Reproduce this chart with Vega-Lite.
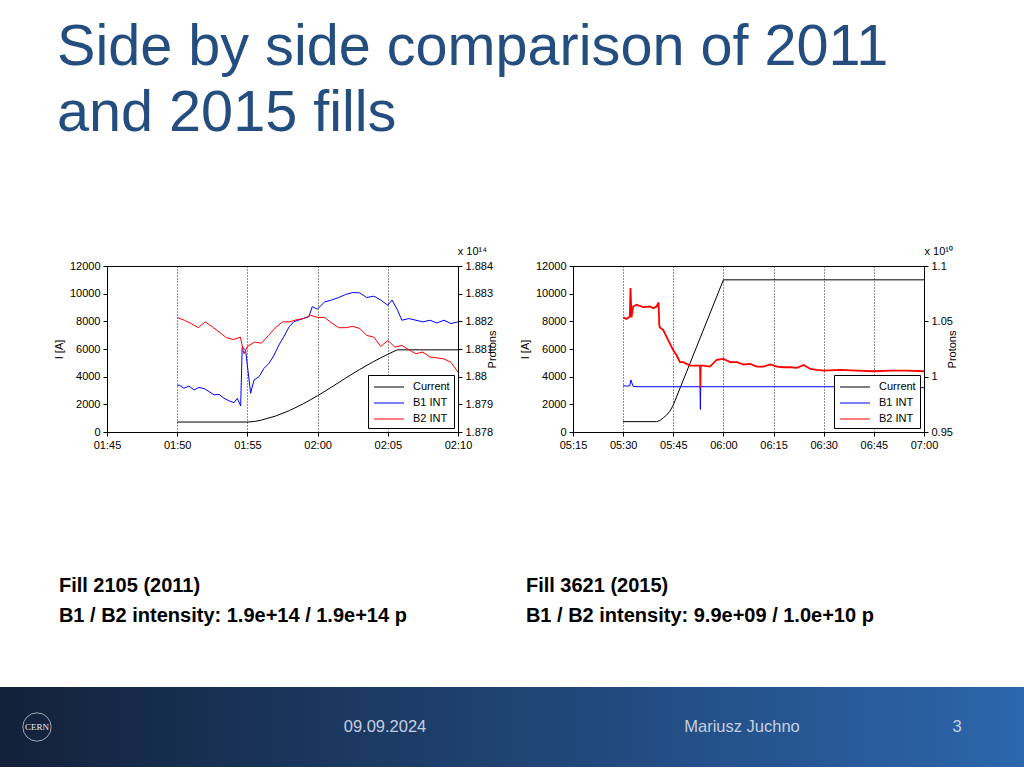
{
  "$schema": "https://vega.github.io/schema/vega-lite/v6.json",
  "background": "#ffffff",
  "padding": {"left": 0, "top": 18, "right": 0, "bottom": 0},
  "title": {"text": ["Side by side comparison of 2011", "and 2015 fills"], "anchor": "start", "dx": 57, "fontSize": 57.6, "lineHeight": 66, "fontWeight": "normal", "color": "#254E80", "font": "Liberation Sans", "offset": 103},
  "datasets": {
    "l_cur": [
      {"minute": 110, "I": 720}, {"minute": 115, "I": 720}, {"minute": 115.5, "I": 760}, {"minute": 116, "I": 860}, {"minute": 117, "I": 1150},
      {"minute": 118, "I": 1550}, {"minute": 119, "I": 2050}, {"minute": 120, "I": 2620}, {"minute": 121, "I": 3250}, {"minute": 122, "I": 3900},
      {"minute": 123, "I": 4520}, {"minute": 124, "I": 5100}, {"minute": 125, "I": 5620}, {"minute": 125.67, "I": 5940}, {"minute": 130, "I": 5940}
    ],
    "l_beam": [
      {"minute": 110, "s": "B1 INT", "p": 1.87967}, {"minute": 110.13, "s": "B1 INT", "p": 1.8797}, {"minute": 110.48, "s": "B1 INT", "p": 1.87958},
      {"minute": 110.83, "s": "B1 INT", "p": 1.87966}, {"minute": 111.2, "s": "B1 INT", "p": 1.87952}, {"minute": 111.55, "s": "B1 INT", "p": 1.87961},
      {"minute": 111.92, "s": "B1 INT", "p": 1.87957}, {"minute": 112.27, "s": "B1 INT", "p": 1.87946}, {"minute": 112.62, "s": "B1 INT", "p": 1.87934},
      {"minute": 112.98, "s": "B1 INT", "p": 1.87936}, {"minute": 113.33, "s": "B1 INT", "p": 1.87922}, {"minute": 113.68, "s": "B1 INT", "p": 1.87913},
      {"minute": 114.05, "s": "B1 INT", "p": 1.87906}, {"minute": 114.28, "s": "B1 INT", "p": 1.87922}, {"minute": 114.52, "s": "B1 INT", "p": 1.87894},
      {"minute": 114.63, "s": "B1 INT", "p": 1.88108}, {"minute": 114.87, "s": "B1 INT", "p": 1.88096}, {"minute": 115.23, "s": "B1 INT", "p": 1.8794},
      {"minute": 115.47, "s": "B1 INT", "p": 1.87988}, {"minute": 115.83, "s": "B1 INT", "p": 1.88}, {"minute": 116.18, "s": "B1 INT", "p": 1.8803},
      {"minute": 116.53, "s": "B1 INT", "p": 1.88048}, {"minute": 116.9, "s": "B1 INT", "p": 1.88078}, {"minute": 117.25, "s": "B1 INT", "p": 1.88115},
      {"minute": 117.6, "s": "B1 INT", "p": 1.88145}, {"minute": 117.97, "s": "B1 INT", "p": 1.8818}, {"minute": 118.32, "s": "B1 INT", "p": 1.88199},
      {"minute": 118.67, "s": "B1 INT", "p": 1.88205}, {"minute": 119.03, "s": "B1 INT", "p": 1.88211}, {"minute": 119.38, "s": "B1 INT", "p": 1.88217},
      {"minute": 119.62, "s": "B1 INT", "p": 1.88253}, {"minute": 119.98, "s": "B1 INT", "p": 1.88244}, {"minute": 120.5, "s": "B1 INT", "p": 1.8827},
      {"minute": 121, "s": "B1 INT", "p": 1.88277}, {"minute": 121.5, "s": "B1 INT", "p": 1.88286}, {"minute": 122, "s": "B1 INT", "p": 1.88297},
      {"minute": 122.5, "s": "B1 INT", "p": 1.88304}, {"minute": 123, "s": "B1 INT", "p": 1.88303}, {"minute": 123.5, "s": "B1 INT", "p": 1.88286},
      {"minute": 124, "s": "B1 INT", "p": 1.88291}, {"minute": 124.5, "s": "B1 INT", "p": 1.88277}, {"minute": 125, "s": "B1 INT", "p": 1.88258},
      {"minute": 125.3, "s": "B1 INT", "p": 1.88277}, {"minute": 125.7, "s": "B1 INT", "p": 1.8824}, {"minute": 126, "s": "B1 INT", "p": 1.88204},
      {"minute": 126.5, "s": "B1 INT", "p": 1.8821}, {"minute": 127, "s": "B1 INT", "p": 1.88204}, {"minute": 127.5, "s": "B1 INT", "p": 1.88198},
      {"minute": 128, "s": "B1 INT", "p": 1.88204}, {"minute": 128.5, "s": "B1 INT", "p": 1.88194}, {"minute": 129, "s": "B1 INT", "p": 1.88204},
      {"minute": 129.5, "s": "B1 INT", "p": 1.88192}, {"minute": 130, "s": "B1 INT", "p": 1.88198},
      {"minute": 110, "s": "B2 INT", "p": 1.88214}, {"minute": 110.5, "s": "B2 INT", "p": 1.88204}, {"minute": 111, "s": "B2 INT", "p": 1.88192},
      {"minute": 111.5, "s": "B2 INT", "p": 1.88177}, {"minute": 112, "s": "B2 INT", "p": 1.88198}, {"minute": 112.5, "s": "B2 INT", "p": 1.8818},
      {"minute": 113, "s": "B2 INT", "p": 1.88161}, {"minute": 113.5, "s": "B2 INT", "p": 1.88141}, {"minute": 114, "s": "B2 INT", "p": 1.88134},
      {"minute": 114.5, "s": "B2 INT", "p": 1.88143}, {"minute": 114.75, "s": "B2 INT", "p": 1.88083}, {"minute": 115, "s": "B2 INT", "p": 1.88109},
      {"minute": 115.5, "s": "B2 INT", "p": 1.88125}, {"minute": 116, "s": "B2 INT", "p": 1.88121}, {"minute": 116.5, "s": "B2 INT", "p": 1.88149},
      {"minute": 117, "s": "B2 INT", "p": 1.88177}, {"minute": 117.5, "s": "B2 INT", "p": 1.88198}, {"minute": 118, "s": "B2 INT", "p": 1.88198},
      {"minute": 118.5, "s": "B2 INT", "p": 1.88206}, {"minute": 119, "s": "B2 INT", "p": 1.8821}, {"minute": 119.5, "s": "B2 INT", "p": 1.88222},
      {"minute": 120, "s": "B2 INT", "p": 1.88214}, {"minute": 120.5, "s": "B2 INT", "p": 1.88214}, {"minute": 121, "s": "B2 INT", "p": 1.88194},
      {"minute": 121.5, "s": "B2 INT", "p": 1.88177}, {"minute": 122, "s": "B2 INT", "p": 1.88177}, {"minute": 122.5, "s": "B2 INT", "p": 1.88182},
      {"minute": 123, "s": "B2 INT", "p": 1.88174}, {"minute": 123.5, "s": "B2 INT", "p": 1.88149}, {"minute": 124, "s": "B2 INT", "p": 1.88143},
      {"minute": 124.5, "s": "B2 INT", "p": 1.88109}, {"minute": 125, "s": "B2 INT", "p": 1.88131}, {"minute": 125.5, "s": "B2 INT", "p": 1.88107},
      {"minute": 126, "s": "B2 INT", "p": 1.88113}, {"minute": 126.5, "s": "B2 INT", "p": 1.88097}, {"minute": 127, "s": "B2 INT", "p": 1.88083},
      {"minute": 127.5, "s": "B2 INT", "p": 1.88089}, {"minute": 128, "s": "B2 INT", "p": 1.88071}, {"minute": 128.5, "s": "B2 INT", "p": 1.88068},
      {"minute": 129, "s": "B2 INT", "p": 1.88064}, {"minute": 129.5, "s": "B2 INT", "p": 1.88052}, {"minute": 130, "s": "B2 INT", "p": 1.88016}
    ],
    "r_cur": [
      {"minute": 330, "I": 750}, {"minute": 340, "I": 750}, {"minute": 341, "I": 830}, {"minute": 342, "I": 1020}, {"minute": 343, "I": 1220},
      {"minute": 344, "I": 1510}, {"minute": 345, "I": 1950}, {"minute": 360, "I": 11000}, {"minute": 420, "I": 11000}
    ],
    "r_beam": [
      {"minute": 330, "s": "B1 INT", "p": 0.9918}, {"minute": 331, "s": "B1 INT", "p": 0.9915}, {"minute": 332, "s": "B1 INT", "p": 0.9918},
      {"minute": 332.3, "s": "B1 INT", "p": 0.997}, {"minute": 333, "s": "B1 INT", "p": 0.9912}, {"minute": 335, "s": "B1 INT", "p": 0.9909},
      {"minute": 353, "s": "B1 INT", "p": 0.9909}, {"minute": 353.1, "s": "B1 INT", "p": 0.9704}, {"minute": 353.2, "s": "B1 INT", "p": 0.9909},
      {"minute": 390, "s": "B1 INT", "p": 0.9909}, {"minute": 415, "s": "B1 INT", "p": 0.9908}, {"minute": 420, "s": "B1 INT", "p": 0.99},
      {"minute": 330, "s": "B2 INT", "p": 1.0536}, {"minute": 331, "s": "B2 INT", "p": 1.0521}, {"minute": 332, "s": "B2 INT", "p": 1.0543},
      {"minute": 332.2, "s": "B2 INT", "p": 1.0801}, {"minute": 332.5, "s": "B2 INT", "p": 1.0536}, {"minute": 333, "s": "B2 INT", "p": 1.0634},
      {"minute": 334, "s": "B2 INT", "p": 1.065}, {"minute": 336, "s": "B2 INT", "p": 1.0628}, {"minute": 338, "s": "B2 INT", "p": 1.0634},
      {"minute": 339, "s": "B2 INT", "p": 1.0619}, {"minute": 340, "s": "B2 INT", "p": 1.0634}, {"minute": 340.6, "s": "B2 INT", "p": 1.0671},
      {"minute": 340.8, "s": "B2 INT", "p": 1.0466}, {"minute": 341, "s": "B2 INT", "p": 1.0445}, {"minute": 342, "s": "B2 INT", "p": 1.0421},
      {"minute": 343, "s": "B2 INT", "p": 1.036}, {"minute": 344, "s": "B2 INT", "p": 1.0299}, {"minute": 345, "s": "B2 INT", "p": 1.0238},
      {"minute": 346, "s": "B2 INT", "p": 1.0193}, {"minute": 347, "s": "B2 INT", "p": 1.0131}, {"minute": 348, "s": "B2 INT", "p": 1.0131},
      {"minute": 350, "s": "B2 INT", "p": 1.01}, {"minute": 352, "s": "B2 INT", "p": 1.01}, {"minute": 353, "s": "B2 INT", "p": 1.01},
      {"minute": 353.1, "s": "B2 INT", "p": 0.9903}, {"minute": 353.2, "s": "B2 INT", "p": 1.01}, {"minute": 354, "s": "B2 INT", "p": 1.01},
      {"minute": 356, "s": "B2 INT", "p": 1.0091}, {"minute": 358, "s": "B2 INT", "p": 1.0153}, {"minute": 360, "s": "B2 INT", "p": 1.0161},
      {"minute": 362, "s": "B2 INT", "p": 1.0131}, {"minute": 364, "s": "B2 INT", "p": 1.0131}, {"minute": 366, "s": "B2 INT", "p": 1.011},
      {"minute": 368, "s": "B2 INT", "p": 1.0116}, {"minute": 370, "s": "B2 INT", "p": 1.0091}, {"minute": 372, "s": "B2 INT", "p": 1.0091},
      {"minute": 374, "s": "B2 INT", "p": 1.011}, {"minute": 376, "s": "B2 INT", "p": 1.0091}, {"minute": 378, "s": "B2 INT", "p": 1.0085},
      {"minute": 380, "s": "B2 INT", "p": 1.0085}, {"minute": 382, "s": "B2 INT", "p": 1.0079}, {"minute": 384, "s": "B2 INT", "p": 1.0106},
      {"minute": 386, "s": "B2 INT", "p": 1.007}, {"minute": 388, "s": "B2 INT", "p": 1.0061}, {"minute": 390, "s": "B2 INT", "p": 1.0055},
      {"minute": 395, "s": "B2 INT", "p": 1.0061}, {"minute": 400, "s": "B2 INT", "p": 1.0055}, {"minute": 405, "s": "B2 INT", "p": 1.0049},
      {"minute": 410, "s": "B2 INT", "p": 1.0055}, {"minute": 415, "s": "B2 INT", "p": 1.0055}, {"minute": 420, "s": "B2 INT", "p": 1.0049}
    ],
    "footer": [
      {"item": "logo", "text": "CERN"},
      {"item": "gap1", "text": ""},
      {"item": "date", "text": "09.09.2024"},
      {"item": "author", "text": "Mariusz Juchno"},
      {"item": "gap2", "text": ""},
      {"item": "page", "text": "3"}
    ]
  },
  "vconcat": [
    {
      "hconcat": [
        {"width": 33, "height": 10, "data": {"values": [{"a": 1}]}, "mark": {"type": "point", "opacity": 0}},
        {
          "title": {"text": ["Fill 2105 (2011)", "B1 / B2 intensity: 1.9e+14 / 1.9e+14 p"], "orient": "bottom", "anchor": "start", "offset": 125, "dx": 6, "fontSize": 20, "lineHeight": 30, "fontWeight": "bold", "color": "#000000", "font": "Liberation Sans"},
          "vconcat": [
            {
              "width": 351, "height": 166,
              "view": {"stroke": "#000000", "strokeWidth": 1},
              "title": {"text": "x 10¹⁴", "anchor": "end", "frame": "group", "fontSize": 11, "fontWeight": "normal", "offset": 3, "dx": 29, "color": "#000000"},
              "layer": [
                {
                  "data": {"name": "l_cur"},
                  "mark": {"type": "line", "strokeWidth": 1},
                  "encoding": {
                    "x": {"field": "minute", "type": "quantitative", "scale": {"domain": [105, 130], "nice": false, "zero": false}, "axis": {"title": null, "values": [105, 110, 115, 120, 125, 130], "labelExpr": "pad(floor(datum.value / 60), 2, '0', 'left') + ':' + pad(datum.value % 60, 2, '0', 'left')", "grid": true, "gridDash": [1, 2], "gridColor": "#222222"}},
                    "y": {"field": "I", "type": "quantitative", "scale": {"domain": [0, 12000], "nice": false}, "axis": {"title": "I [A]", "values": [0, 2000, 4000, 6000, 8000, 10000, 12000], "format": "d"}},
                    "color": {"datum": "Current", "type": "nominal", "scale": {"domain": ["Current", "B1 INT", "B2 INT"], "range": ["#000000", "#0000ff", "#ff0000"]}}
                  }
                },
                {
                  "data": {"name": "l_beam"},
                  "mark": {"type": "line", "strokeWidth": 1},
                  "encoding": {
                    "x": {"field": "minute", "type": "quantitative"},
                    "y": {"field": "p", "type": "quantitative", "scale": {"domain": [1.878, 1.884], "nice": false, "zero": false}, "axis": {"orient": "right", "title": "Protons", "titleAngle": 270, "values": [1.878, 1.879, 1.88, 1.881, 1.882, 1.883, 1.884], "format": ".3~f"}},
                    "color": {"field": "s", "type": "nominal", "scale": {"domain": ["Current", "B1 INT", "B2 INT"], "range": ["#000000", "#0000ff", "#ff0000"]}}
                  }
                }
              ],
              "resolve": {"scale": {"y": "independent"}}
            }
          ],
          "resolve": {"scale": {"color": "independent"}, "legend": {"color": "independent"}}
        },
        {
          "title": {"text": ["Fill 3621 (2015)", "B1 / B2 intensity: 9.9e+09 / 1.0e+10 p"], "orient": "bottom", "anchor": "start", "offset": 125, "dx": 7, "fontSize": 20, "lineHeight": 30, "fontWeight": "bold", "color": "#000000", "font": "Liberation Sans"},
          "vconcat": [
            {
              "width": 351, "height": 166,
              "view": {"stroke": "#000000", "strokeWidth": 1},
              "title": {"text": "x 10¹⁰", "anchor": "end", "frame": "group", "fontSize": 11, "fontWeight": "normal", "offset": 3, "dx": 29, "color": "#000000"},
              "layer": [
                {
                  "data": {"name": "r_cur"},
                  "mark": {"type": "line", "strokeWidth": 1},
                  "encoding": {
                    "x": {"field": "minute", "type": "quantitative", "scale": {"domain": [315, 420], "nice": false, "zero": false}, "axis": {"title": null, "values": [315, 330, 345, 360, 375, 390, 405, 420], "labelExpr": "pad(floor(datum.value / 60), 2, '0', 'left') + ':' + pad(datum.value % 60, 2, '0', 'left')", "grid": true, "gridDash": [1, 2], "gridColor": "#222222"}},
                    "y": {"field": "I", "type": "quantitative", "scale": {"domain": [0, 12000], "nice": false}, "axis": {"title": "I [A]", "values": [0, 2000, 4000, 6000, 8000, 10000, 12000], "format": "d"}},
                    "color": {"datum": "Current", "type": "nominal", "scale": {"domain": ["Current", "B1 INT", "B2 INT"], "range": ["#000000", "#0000ff", "#ff0000"]}}
                  }
                },
                {
                  "data": {"name": "r_beam"},
                  "layer": [
                    {
                      "transform": [{"filter": "datum.s === 'B1 INT'"}],
                      "mark": {"type": "line", "strokeWidth": 1},
                      "encoding": {
                        "x": {"field": "minute", "type": "quantitative"},
                        "y": {"field": "p", "type": "quantitative", "scale": {"domain": [0.95, 1.1], "nice": false, "zero": false}, "axis": {"orient": "right", "title": "Protons", "titleAngle": 270, "values": [0.95, 1, 1.05, 1.1], "format": ".2~f"}},
                        "color": {"field": "s", "type": "nominal", "scale": {"domain": ["Current", "B1 INT", "B2 INT"], "range": ["#000000", "#0000ff", "#ff0000"]}}
                      }
                    },
                    {
                      "transform": [{"filter": "datum.s === 'B2 INT'"}],
                      "mark": {"type": "line", "strokeWidth": 1.8},
                      "encoding": {
                        "x": {"field": "minute", "type": "quantitative"},
                        "y": {"field": "p", "type": "quantitative", "scale": {"domain": [0.95, 1.1], "nice": false, "zero": false}},
                        "color": {"field": "s", "type": "nominal", "scale": {"domain": ["Current", "B1 INT", "B2 INT"], "range": ["#000000", "#0000ff", "#ff0000"]}}
                      }
                    }
                  ]
                }
              ],
              "resolve": {"scale": {"y": "independent"}}
            }
          ],
          "resolve": {"scale": {"color": "independent"}, "legend": {"color": "independent"}}
        }
      ],
      "spacing": 19,
      "resolve": {"scale": {"color": "independent"}, "legend": {"color": "independent"}}
    },
    {
      "hconcat": [
        {
          "width": 74, "height": 80, "data": {"name": "footer"}, "transform": [{"filter": "datum.item === 'logo'"}],
          "layer": [
            {"mark": {"type": "rect", "color": {"gradient": "linear", "x1": 0, "x2": 1, "y1": 0, "y2": 0, "stops": [{"offset": 0, "color": "#13213a"}, {"offset": 1, "color": "#152642"}]}}, "encoding": {}},
            {"mark": {"type": "point", "shape": "circle", "size": 800, "filled": false, "color": "#d7dde8", "strokeWidth": 1}, "encoding": {}},
            {"mark": {"type": "text", "color": "#e6eaf2", "fontSize": 9, "font": "Liberation Serif"}, "encoding": {"text": {"field": "text"}}}
          ]
        },
        {
          "width": 24, "height": 80, "data": {"name": "footer"}, "transform": [{"filter": "datum.item === 'gap1'"}],
          "layer": [
            {"mark": {"type": "rect", "color": {"gradient": "linear", "x1": 0, "x2": 1, "y1": 0, "y2": 0, "stops": [{"offset": 0, "color": "#152642"}, {"offset": 1, "color": "#152845"}]}}, "encoding": {}}
          ]
        },
        {
          "width": 574, "height": 80, "data": {"name": "footer"}, "transform": [{"filter": "datum.item === 'date'"}],
          "layer": [
            {"mark": {"type": "rect", "color": {"gradient": "linear", "x1": 0, "x2": 1, "y1": 0, "y2": 0, "stops": [{"offset": 0, "color": "#152845"}, {"offset": 1, "color": "#234e85"}]}}, "encoding": {}},
            {"mark": {"type": "text", "color": "#c5cfe0", "fontSize": 16.5}, "encoding": {"text": {"field": "text"}}}
          ]
        },
        {
          "width": 140, "height": 80, "data": {"name": "footer"}, "transform": [{"filter": "datum.item === 'author'"}],
          "layer": [
            {"mark": {"type": "rect", "color": {"gradient": "linear", "x1": 0, "x2": 1, "y1": 0, "y2": 0, "stops": [{"offset": 0, "color": "#234e85"}, {"offset": 1, "color": "#275894"}]}}, "encoding": {}},
            {"mark": {"type": "text", "color": "#c5cfe0", "fontSize": 16.5}, "encoding": {"text": {"field": "text"}}}
          ]
        },
        {
          "width": 78, "height": 80, "data": {"name": "footer"}, "transform": [{"filter": "datum.item === 'gap2'"}],
          "layer": [
            {"mark": {"type": "rect", "color": {"gradient": "linear", "x1": 0, "x2": 1, "y1": 0, "y2": 0, "stops": [{"offset": 0, "color": "#275894"}, {"offset": 1, "color": "#295d9d"}]}}, "encoding": {}}
          ]
        },
        {
          "width": 134, "height": 80, "data": {"name": "footer"}, "transform": [{"filter": "datum.item === 'page'"}],
          "layer": [
            {"mark": {"type": "rect", "color": {"gradient": "linear", "x1": 0, "x2": 1, "y1": 0, "y2": 0, "stops": [{"offset": 0, "color": "#295d9d"}, {"offset": 1, "color": "#2c66ac"}]}}, "encoding": {}},
            {"mark": {"type": "text", "color": "#c5cfe0", "fontSize": 16.5}, "encoding": {"text": {"field": "text"}}}
          ]
        }
      ],
      "spacing": 0
    }
  ],
  "spacing": 61,
  "config": {
    "font": "Liberation Sans",
    "view": {"stroke": null},
    "axis": {"labelFontSize": 11, "titleFontSize": 11, "titleFontWeight": "normal", "labelColor": "#000000", "titleColor": "#000000", "domainColor": "#000000", "tickColor": "#000000", "grid": false, "tickSize": 4, "labelPadding": 3, "labelFlush": false, "labelOverlap": false, "titlePadding": 5},
    "legend": {"orient": "bottom-right", "offset": 4, "title": null, "symbolType": "M-2,0L2,0", "symbolSize": 225, "symbolStrokeWidth": 1, "symbolOffset": 9, "labelOffset": 16, "rowPadding": 3, "labelFontSize": 11, "labelColor": "#000000", "strokeColor": "#000000", "fillColor": "#ffffff", "padding": 4, "cornerRadius": 0}
  }
}
